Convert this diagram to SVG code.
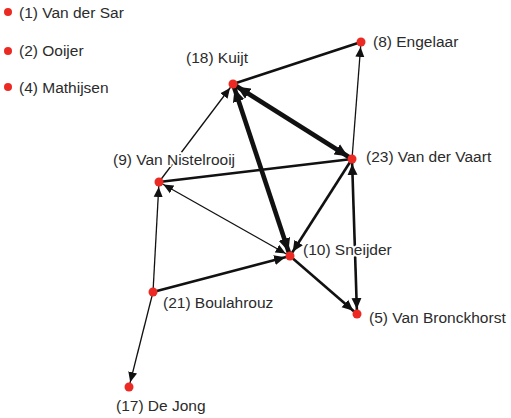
<svg xmlns="http://www.w3.org/2000/svg" width="511" height="418" viewBox="0 0 511 418">
<style>
.lbl{font-family:"Liberation Sans",Arial,sans-serif;font-size:15.5px;fill:#2b2b2b;stroke:#fff;stroke-width:4;stroke-linejoin:round;paint-order:stroke}
.dot{fill:#ec2a24}
.e{stroke:#111;fill:none}
.t{stroke-width:1.3}
.m{stroke-width:2.6}
.k{stroke-width:4.6}
</style>
<defs>
<marker id="aS" markerUnits="userSpaceOnUse" viewBox="0 0 15 10" markerWidth="15" markerHeight="10" refX="15" refY="5" orient="auto-start-reverse"><path d="M0,0.5 L10,5 L0,9.5 z" fill="#111"/></marker>
<marker id="aM" markerUnits="userSpaceOnUse" viewBox="0 0 16 11" markerWidth="16" markerHeight="11" refX="16" refY="5.5" orient="auto-start-reverse"><path d="M0,0.5 L11,5.5 L0,10.5 z" fill="#111"/></marker>
<marker id="aL" markerUnits="userSpaceOnUse" viewBox="0 0 18 13" markerWidth="18" markerHeight="13" refX="18" refY="6.5" orient="auto-start-reverse"><path d="M0,0.5 L13,6.5 L0,12.5 z" fill="#111"/></marker>
</defs>
<g id="connectors">
<line class="e m" x1="233" y1="84" x2="361" y2="42"/>
<line class="e t" x1="352" y1="159" x2="361" y2="42" marker-end="url(#aS)"/>
<line class="e k" x1="352" y1="159" x2="233" y2="84" marker-start="url(#aL)" marker-end="url(#aL)"/>
<line class="e k" x1="290" y1="256" x2="233" y2="84" marker-start="url(#aL)" marker-end="url(#aL)"/>
<line class="e t" x1="159" y1="182" x2="233" y2="84" marker-end="url(#aS)"/>
<line class="e m" x1="352" y1="159" x2="159" y2="182"/>
<line class="e t" x1="290" y1="256" x2="159" y2="182" marker-start="url(#aS)" marker-end="url(#aS)"/>
<line class="e m" x1="352" y1="159" x2="290" y2="256" marker-end="url(#aM)"/>
<line class="e m" x1="153" y1="292" x2="290" y2="256" marker-end="url(#aM)"/>
<line class="e t" x1="153" y1="292" x2="159" y2="182" marker-end="url(#aS)"/>
<line class="e t" x1="153" y1="292" x2="129" y2="387" marker-end="url(#aS)"/>
<line class="e m" x1="290" y1="256" x2="357" y2="314" marker-end="url(#aM)"/>
<line class="e m" x1="357" y1="314" x2="352" y2="159" marker-start="url(#aM)" marker-end="url(#aM)"/>
</g>
<g id="legend1"><circle class="dot" cx="8" cy="12" r="4"/><text class="lbl" x="19" y="18">(1) Van der Sar</text></g>
<g id="legend2"><circle class="dot" cx="8" cy="51" r="4"/><text class="lbl" x="19" y="56">(2) Ooijer</text></g>
<g id="legend4"><circle class="dot" cx="8" cy="87" r="4"/><text class="lbl" x="19" y="93">(4) Mathijsen</text></g>
<g id="n18"><circle class="dot" cx="233" cy="84" r="4.5"/><text class="lbl" x="186" y="63">(18) Kuijt</text></g>
<g id="n8"><circle class="dot" cx="361" cy="42" r="4.5"/><text class="lbl" x="373" y="47">(8) Engelaar</text></g>
<g id="n23"><circle class="dot" cx="352" cy="159" r="4.5"/><text class="lbl" x="366" y="162">(23) Van der Vaart</text></g>
<g id="n9"><circle class="dot" cx="159" cy="182" r="4.5"/><text class="lbl" x="113" y="165">(9) Van Nistelrooij</text></g>
<g id="n10"><circle class="dot" cx="290" cy="256" r="4.5"/><text class="lbl" x="303" y="255">(10) Sneijder</text></g>
<g id="n5"><circle class="dot" cx="357" cy="314" r="4.5"/><text class="lbl" x="369" y="323">(5) Van Bronckhorst</text></g>
<g id="n21"><circle class="dot" cx="153" cy="292" r="4.5"/><text class="lbl" x="163" y="308">(21) Boulahrouz</text></g>
<g id="n17"><circle class="dot" cx="129" cy="387" r="4.5"/><text class="lbl" x="116" y="411">(17) De Jong</text></g>
</svg>
